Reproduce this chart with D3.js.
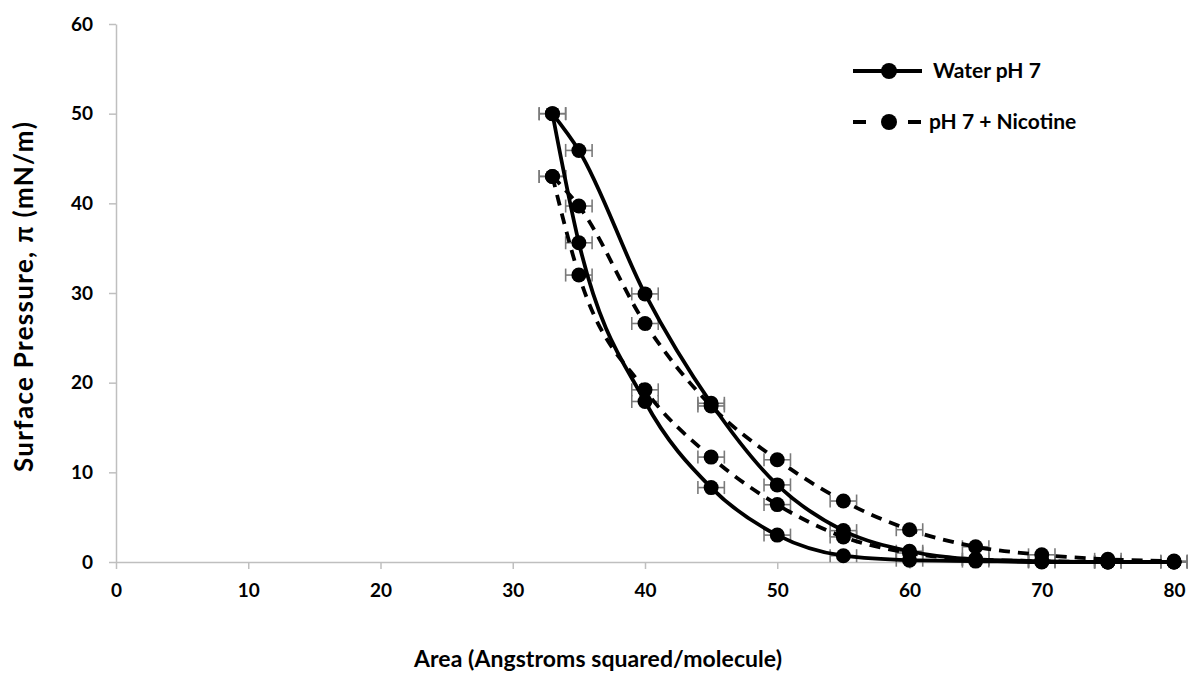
<!DOCTYPE html>
<html>
<head>
<meta charset="utf-8">
<script src="https://cdn.jsdelivr.net/npm/d3@7"></script>
<style>
  body { margin: 0; background: #fff; }
  text { font-family: Lato, "Open Sans", sans-serif; font-weight: bold; }
</style>
</head>
<body>
<svg id="chart" width="1188" height="673"></svg>
<script>
// area values (x) shared by every branch
const areas = [33, 35, 40, 45, 50, 55, 60, 65, 70, 75, 80];

// Water pH 7: compression (upper) and expansion (lower) branches
const waterUp   = [50, 45.9, 29.9, 17.7, 8.6, 3.5, 1.2, 0.3, 0.1, 0, 0];
const waterDown = [50, 35.6, 17.9, 8.3, 3.0, 0.7, 0.2, 0.1, 0, 0, 0];

// pH 7 + Nicotine
const nicUp   = [43, 39.7, 26.6, 17.4, 11.4, 6.8, 3.6, 1.7, 0.8, 0.3, 0.1];
const nicDown = [43, 32.0, 19.2, 11.7, 6.4, 2.8, 1.0, 0.3, 0.1, 0, 0];

// horizontal error (area units)
const xErr = 1;

const xTicks = [0, 10, 20, 30, 40, 50, 60, 70, 80];
const yTicks = [0, 10, 20, 30, 40, 50, 60];

const svg = d3.select("#chart");
const margin = {left: 116, right: 14, top: 24, bottom: 111};
const width = 1188 - margin.left - margin.right,
      height = 673 - margin.top - margin.bottom;

const x = d3.scaleLinear().domain([0, 80]).range([0, width]);
const y = d3.scaleLinear().domain([0, 60]).range([height, 0]);

const g = svg.append("g")
    .attr("transform", "translate(" + margin.left + "," + margin.top + ")");

// axes
const xAxis = g.append("g")
    .attr("transform", "translate(0," + height + ")")
    .call(d3.axisBottom(x).tickValues(xTicks).tickSize(7).tickPadding(15).tickSizeOuter(0));
const yAxis = g.append("g")
    .call(d3.axisLeft(y).tickValues(yTicks).tickSize(7).tickPadding(16).tickSizeOuter(0));
[xAxis, yAxis].forEach(a => {
    a.selectAll("path, line").attr("stroke", "#bfbfbf").attr("stroke-width", 1.5);
    a.selectAll("text").attr("fill", "#000").style("font-size", "19px");
});

// series
const series = [
    {name: "Water pH 7", branches: [waterUp, waterDown], dash: null},
    {name: "pH 7 + Nicotine", branches: [nicUp, nicDown], dash: "11,8"}
];

const line = d3.line()
    .x(d => x(d[0]))
    .y(d => y(d[1]))
    .curve(d3.curveMonotoneX);

// error bars first
series.forEach(s => {
    s.branches.forEach(vals => {
        const pts = areas.map((a, i) => [a, vals[i]]);
        const eb = g.append("g").attr("stroke", "#7a7a7a").attr("stroke-width", 1.6);
        eb.selectAll(".h").data(pts).enter().append("line")
            .attr("x1", d => x(d[0] - xErr)).attr("x2", d => x(d[0] + xErr))
            .attr("y1", d => y(d[1])).attr("y2", d => y(d[1]));
        [-xErr, xErr].forEach(e => {
            eb.selectAll(".c" + e).data(pts).enter().append("line")
                .attr("x1", d => x(d[0] + e)).attr("x2", d => x(d[0] + e))
                .attr("y1", d => y(d[1]) - 6.5).attr("y2", d => y(d[1]) + 6.5);
        });
    });
});

series.forEach(s => {
    s.branches.forEach(vals => {
        const pts = areas.map((a, i) => [a, vals[i]]);
        g.append("path")
            .datum(pts)
            .attr("fill", "none")
            .attr("stroke", "#000")
            .attr("stroke-width", 3.8)
            .attr("stroke-dasharray", s.dash)
            .attr("d", line);
        g.selectAll(null).data(pts).enter().append("circle")
            .attr("cx", d => x(d[0]))
            .attr("cy", d => y(d[1]))
            .attr("r", 7.5)
            .attr("fill", "#000");
    });
});

// axis titles
svg.append("text")
    .attr("x", 598)
    .attr("y", 667)
    .attr("text-anchor", "middle")
    .attr("textLength", 368)
    .attr("lengthAdjust", "spacing")
    .style("font-size", "23px")
    .text("Area (Angstroms squared/molecule)");
svg.append("text")
    .attr("transform", "translate(33,297) rotate(-90)")
    .attr("text-anchor", "middle")
    .attr("textLength", 350)
    .attr("lengthAdjust", "spacing")
    .style("font-size", "26px")
    .text("Surface Pressure, π (mN/m)");

// legend
const legend = svg.append("g").attr("transform", "translate(853,71)");
series.forEach((s, i) => {
    const row = legend.append("g").attr("transform", "translate(0," + (i * 51) + ")");
    row.append("line")
        .attr("x1", 0).attr("x2", 69).attr("y1", 0).attr("y2", 0)
        .attr("stroke", "#000").attr("stroke-width", 3.8)
        .attr("stroke-dasharray", s.dash ? "13,42" : null);
    row.append("circle").attr("cx", 36).attr("cy", 0).attr("r", 8).attr("fill", "#000");
    row.append("text")
        .attr("x", s.dash ? 76 : 80).attr("y", 0).attr("dy", "0.35em")
        .style("font-size", "21px")
        .text(s.name);
});
</script>
</body>
</html>
